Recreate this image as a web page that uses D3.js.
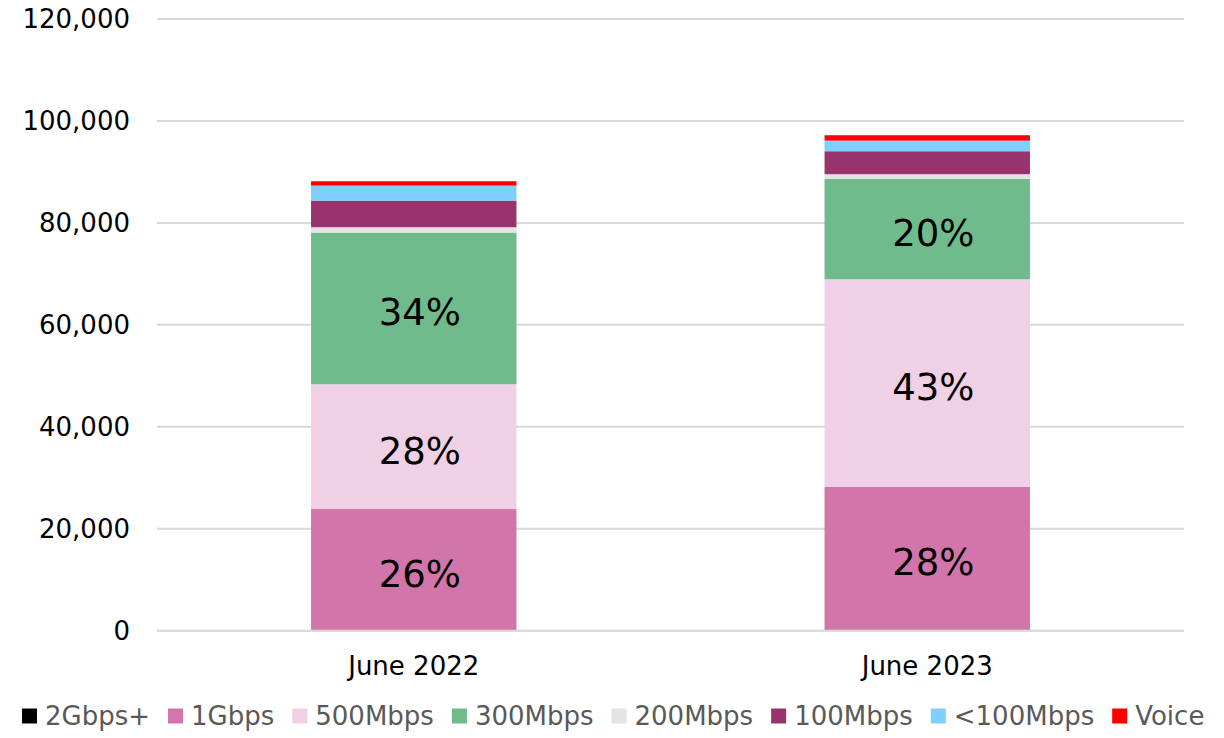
<!DOCTYPE html>
<html>
<head>
<meta charset="utf-8">
<script src="https://cdn.jsdelivr.net/npm/d3@7"></script>
<style>
  html, body { margin: 0; padding: 0; background: #fff; }
  svg { display: block; font-family: "DejaVu Sans", Verdana, sans-serif; }
</style>
</head>
<body>
<div id="chart"></div>
<script>
// data
var categories = ["June 2022", "June 2023"];
var seriesNames = ["2Gbps+", "1Gbps", "500Mbps", "300Mbps", "200Mbps", "100Mbps", "<100Mbps", "Voice"];
var seriesColors = ["#000000", "#D275AB", "#F0D0E4", "#6FBB8C", "#E3E3E3", "#99336E", "#7DCFFF", "#FF0000"];

var gbps2Plus = [0, 200];
var gbps1 = [23880, 28000];
var mbps500 = [24470, 40750];
var mbps300 = [29740, 19680];
var mbps200 = [1060, 920];
var mbps100 = [5220, 4510];
var under100 = [2940, 2080];
var voice = [860, 1060];

// percentage labels shown inside segments
var pctLabels = {
  "1Gbps": ["26%", "28%"],
  "500Mbps": ["28%", "43%"],
  "300Mbps": ["34%", "20%"]
};

var yTicks = [0, 20000, 40000, 60000, 80000, 100000, 120000];

var width = 1224, height = 738;
var svg = d3.select("#chart").append("svg").attr("width", width).attr("height", height);

var allSeries = [gbps2Plus, gbps1, mbps500, mbps300, mbps200, mbps100, under100, voice];
var rows = categories.map(function (c, i) {
  var r = { category: c };
  seriesNames.forEach(function (s, j) { r[s] = allSeries[j][i]; });
  return r;
});

var x = d3.scaleBand()
  .domain(categories)
  .range([157, 1184])
  .paddingInner(0.6)
  .paddingOuter(0.3);

var y = d3.scaleLinear()
  .domain([0, 120000])
  .range([630.7, 19]);

// gridlines
svg.append("g")
  .selectAll("line")
  .data(yTicks)
  .enter().append("line")
  .attr("x1", 157).attr("x2", 1184)
  .attr("y1", function (d) { return y(d); })
  .attr("y2", function (d) { return y(d); })
  .attr("stroke", "#D9D9D9")
  .attr("stroke-width", 2);

// y axis labels
var yAxis = svg.append("g")
  .attr("transform", "translate(130,0)")
  .call(d3.axisLeft(y).tickValues(yTicks).tickSize(0).tickPadding(0).tickFormat(d3.format(",")));
yAxis.select(".domain").remove();
yAxis.selectAll("text")
  .attr("font-size", 26)
  .attr("font-family", "DejaVu Sans, Verdana, sans-serif")
  .attr("fill", "#000");

var stack = d3.stack().keys(seriesNames);
var stacked = stack(rows);

var layers = svg.append("g")
  .selectAll("g")
  .data(stacked)
  .enter().append("g")
  .attr("fill", function (d, i) { return seriesColors[i]; });

layers.selectAll("rect")
  .data(function (d) { return d; })
  .enter().append("rect")
  .attr("x", function (d) { return x(d.data.category); })
  .attr("width", x.bandwidth())
  .attr("y", function (d) { return y(d[1]); })
  .attr("height", function (d) { return y(d[0]) - y(d[1]); });

// bottom axis line
svg.append("line")
  .attr("x1", 157).attr("x2", 1184)
  .attr("y1", y(0)).attr("y2", y(0))
  .attr("stroke", "#D9D9D9")
  .attr("stroke-width", 2);

// category labels
var xAxis = svg.append("g")
  .attr("transform", "translate(0," + y(0) + ")")
  .call(d3.axisBottom(x).tickSize(0).tickPadding(26));
xAxis.select(".domain").remove();
xAxis.selectAll("text")
  .attr("font-size", 26)
  .attr("font-family", "DejaVu Sans, Verdana, sans-serif")
  .attr("fill", "#000");

// percentage labels
stacked.forEach(function (layer) {
  var labs = pctLabels[layer.key];
  if (!labs) return;
  svg.append("g")
    .selectAll("text")
    .data(layer)
    .enter().append("text")
    .attr("x", function (d) { return x(d.data.category) + x.bandwidth() / 2 + 6; })
    .attr("y", function (d) { return (y(d[0]) + y(d[1])) / 2 + 4; })
    .attr("dy", "0.35em")
    .attr("text-anchor", "middle")
    .attr("font-size", 37)
    .attr("fill", "#000")
    .text(function (d, i) { return labs[i]; });
});

// legend
var legend = svg.append("g").attr("transform", "translate(22,716)");
var lx = 0;
seriesNames.forEach(function (name, i) {
  var g = legend.append("g").attr("transform", "translate(" + lx + ",0)");
  g.append("rect")
    .attr("x", 0).attr("y", -7.5)
    .attr("width", 15).attr("height", 15)
    .attr("fill", seriesColors[i]);
  var t = g.append("text")
    .attr("x", 23)
    .attr("y", 0)
    .attr("dy", "0.35em")
    .attr("font-size", 26)
    .attr("fill", "#595959")
    .text(name);
  lx += 23 + t.node().getComputedTextLength() + 18;
});
</script>
</body>
</html>
